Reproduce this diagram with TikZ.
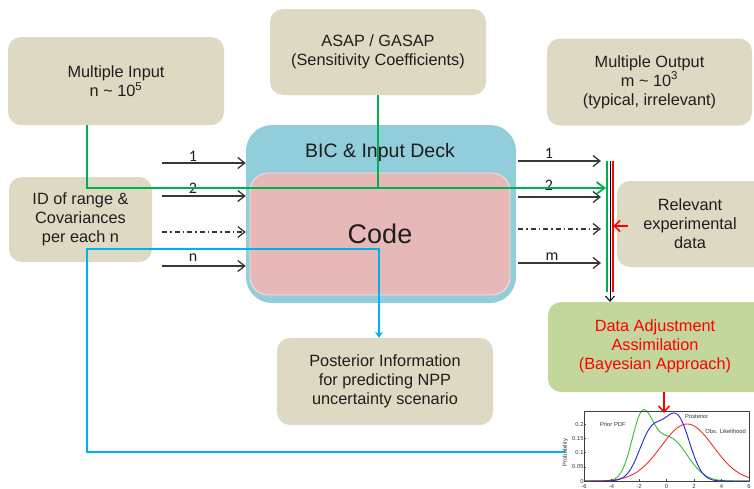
\documentclass[tikz,border=0pt]{standalone}
\usepackage{fontspec}
\setmainfont{Liberation Sans}
\newfontfamily\labelfont{Carlito}
\usetikzlibrary{arrows.meta}

\definecolor{boxtan}{HTML}{DDD9C3}
\definecolor{bicblue}{HTML}{92CDDC}
\definecolor{codepink}{HTML}{E6B9B8}
\definecolor{adjgreen}{HTML}{C3D69B}
\definecolor{linegreen}{HTML}{00B050}
\definecolor{lineblue}{HTML}{00B0F0}
\definecolor{linered}{HTML}{FF0000}
\definecolor{textdark}{HTML}{1E1E1E}
\definecolor{arrowgray}{HTML}{383838}
\definecolor{plotgreen}{HTML}{2EC22E}
\definecolor{plotblue}{HTML}{2222F0}
\definecolor{plotred}{HTML}{F03030}

\begin{document}
\begin{tikzpicture}[x=1pt,y=-1pt,
  panel/.style={fill=boxtan, rounded corners=13pt, inner sep=0pt, align=center,
    font=\fontsize{16.3}{19}\selectfont, text=textdark},
  paneltext/.style={inner sep=0pt, align=center, font=\fontsize{16.3}{19}\selectfont, text=textdark},
  bicbox/.style={fill=bicblue, rounded corners=26pt, inner sep=0pt},
  codebox/.style={fill=codepink, draw={rgb,255:red,246;green,226;blue,226}, line width=0.9pt,
    rounded corners=18pt, inner sep=0pt, font=\fontsize{27}{30}\selectfont, text=textdark},
  flow/.style={draw=arrowgray, line width=1.3pt, -{Straight Barb[length=7pt,width=11pt]}},
  flowdash/.style={flow, dash pattern=on 5pt off 3pt on 1.5pt off 3pt},
  numlabel/.style={inner sep=0pt, font=\labelfont\fontsize{16}{16}\selectfont, text=textdark},
  greenline/.style={draw=linegreen, line width=1.8pt},
  blueline/.style={draw=lineblue, line width=1.8pt},
  redarrow/.style={draw=linered, line width=1.5pt, -{Straight Barb[length=6pt,width=11pt]}},
  plottext/.style={inner sep=0.3pt, font=\fontsize{5.8}{6}\selectfont, text=black!80},
]
\useasboundingbox (0,0) rectangle (754,488);
\clip (0,0) rectangle (754,488);

% ---------- central block: BIC & input deck around the code ----------
\node[bicbox, minimum width=270pt, minimum height=178pt] (bic) at (381,214) {};
\node[inner sep=0pt, font=\fontsize{19.5}{22}\selectfont, text=textdark] (bictitle) at (380,152) {BIC \& Input Deck};
\node[codebox, minimum width=260pt, minimum height=122pt] (code) at (380,234) {Code};

% ---------- surrounding panels ----------
\node[panel, minimum width=216pt, minimum height=88pt] (minput) at (116,81)
  {Multiple Input\\n \textasciitilde{} 10\textsuperscript{5}};
\node[panel, minimum width=216pt, minimum height=86pt] (asap) at (378,52)
  {ASAP / GASAP\\(Sensitivity Coefficients)};
\node[panel, minimum width=205pt, minimum height=87pt] (moutput) at (649.5,82)
  {Multiple Output\\m \textasciitilde{} 10\textsuperscript{3}\\(typical, irrelevant)};
\node[panel, minimum width=143pt, minimum height=85pt] (idbox) at (80.5,219.5)
  {ID of range \&\\Covariances\\per each n};
\node[panel, minimum width=160pt, minimum height=86pt] (relbox) at (697,224) {};
\node[paneltext] (reltext) at (690,224) {Relevant\\experimental\\data};
\node[panel, fill=adjgreen, minimum width=226pt, minimum height=90pt] (dabox) at (661,347) {};
\node[paneltext, text=linered] (datext) at (655,346) {Data Adjustment\\Assimilation\\(Bayesian Approach)};
\node[panel, minimum width=216pt, minimum height=87pt] (postbox) at (385,381.5)
  {Posterior Information\\for predicting NPP\\uncertainty scenario};

% ---------- inputs 1..n into the code ----------
\coordinate (in1) at (162,163);
\coordinate (in2) at (162,196);
\coordinate (in3) at (162,232);
\coordinate (inn) at (162,266);
\draw[flow] (in1) -- (in1 -| bic.west);
\draw[flow] (in2) -- (in2 -| bic.west);
\draw[flowdash] (in3) -- (in3 -| bic.west);
\draw[flow] (inn) -- (inn -| bic.west);
\node[numlabel] (lin1) at (193,156) {1};
\node[numlabel] (lin2) at (193,188) {2};
\node[numlabel] (linn) at (193,258) {n};

% ---------- outputs 1..m towards the collector ----------
\coordinate (out1) at (601,161);
\coordinate (out2) at (601,197);
\coordinate (out3) at (601,229);
\coordinate (outm) at (601,263);
\draw[flow] (out1 -| bic.east) ++(2,0) -- (out1);
\draw[flow] (out2 -| bic.east) ++(2,0) -- (out2);
\draw[flowdash] (out3 -| bic.east) ++(2,0) -- (out3);
\draw[flow] (outm -| bic.east) ++(2,0) -- (outm);
\node[numlabel] (lout1) at (549,153) {1};
\node[numlabel] (lout2) at (549,185) {2};
\node[numlabel] (loutm) at (552,257) {m};

% ---------- collector bar: model (green), outputs (black), data (red) ----------
\coordinate (coltop) at (610,161);
\draw[greenline] (607,161) -- (607,292);
\draw[draw=linered, line width=1.8pt] (613,161) -- (613,292);
\draw[draw=black, line width=1pt, -{Straight Barb[length=5pt,width=9pt]}] (coltop) -- (coltop |- dabox.north);
\draw[redarrow] ([xshift=11pt,yshift=-2pt]relbox.west) -- (613,226);

% ---------- sensitivities and input data carried to the collector ----------
\coordinate (gx) at (87,188);
\coordinate (gjoin) at (606,188);
\draw[greenline, -{Straight Barb[length=8pt,width=12pt]}] (minput.south -| gx) -- (gx) -- (gjoin);
\draw[greenline] (asap.south) -- (asap.south |- gx);

% ---------- posterior feedback loop ----------
\coordinate (plotin) at (565,452);
\coordinate (bluecorner) at (87,249);
\draw[blueline, -{Stealth[length=6pt,width=8pt]}] (plotin) -| (bluecorner) -| ([xshift=-6pt]postbox.north);

% ---------- assimilation result drawn as probability curves ----------
\coordinate (plottop) at (664,413);
\draw[redarrow] (datext.south |- dabox.south) ++(9,0) -- (plottop);

\begin{scope}[shift={(666.5,481)}, x=13.75pt, y=285pt]
  \draw[plotgreen, line width=0.9pt, domain=-6:6, samples=150, smooth] plot
    (\x, {0.2*exp(-((\x+1.8)*(\x+1.8))/1.125) + 0.15*exp(-((\x-0.2)*(\x-0.2))/3.38)});
  \draw[plotred, line width=0.9pt, domain=-6:6, samples=150, smooth] plot
    (\x, {0.2*exp(-((\x-1.5)*(\x-1.5))/7.22)});
  \draw[plotblue, line width=0.9pt, domain=-6:6, samples=150, smooth] plot
    (\x, {0.17*exp(-((\x+1.1)*(\x+1.1))/1.62) + 0.215*exp(-((\x-0.8)*(\x-0.8))/1.62)});
  \draw[black!75, line width=0.5pt] (-6,0) rectangle (6,0.245);
  \foreach \tk in {-6,-4,...,6} {
    \draw[black!75, line width=0.4pt] (\tk,0) -- (\tk,0.006);
    \node[plottext, anchor=north, yshift=-2.6pt] (xt\tk) at (\tk,0) {\tk};
  }
  \foreach \yv in {0,0.05,0.1,0.15,0.2} {
    \draw[black!75, line width=0.4pt] (-6,\yv) -- (-5.85,\yv);
    \node[plottext, anchor=east] (yt\yv) at (-6,\yv) {\yv};
  }
  \node[plottext, rotate=90] (ylab) at (-7.35,0.1) {Probability};
  \node[plottext] (lprior) at (-3.9,0.2) {Prior PDF};
  \node[plottext] (lpost) at (2.2,0.225) {Posterior};
  \node[plottext] (lobs) at (4.3,0.175) {Obs. Likelihood};
\end{scope}
\end{tikzpicture}
\end{document}
